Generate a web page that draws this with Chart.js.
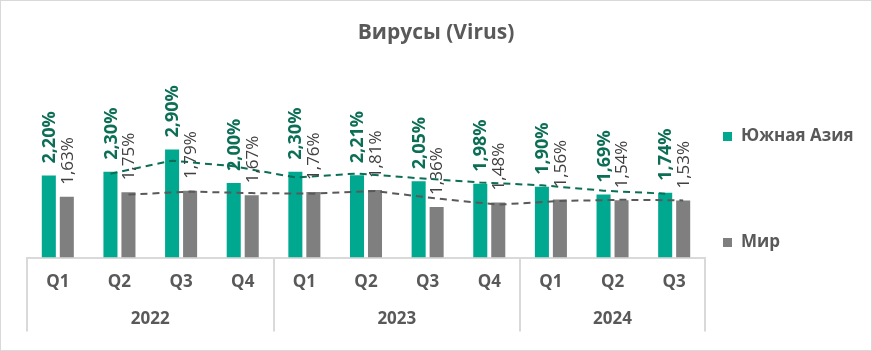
<!DOCTYPE html>
<html>
<head>
<meta charset="utf-8">
<script src="https://cdn.jsdelivr.net/npm/chart.js@4"></script>
<style>
  html, body { margin: 0; padding: 0; background: #fff; }
  canvas { display: block; }
</style>
</head>
<body>
<canvas id="myChart" width="872" height="351"></canvas>
<script>
// data
var quarters = ['Q1', 'Q2', 'Q3', 'Q4', 'Q1', 'Q2', 'Q3', 'Q4', 'Q1', 'Q2', 'Q3'];
var years = ['2022', '2023', '2024'];
var yearSize = [4, 4, 3];
var southAsia = [2.20, 2.30, 2.90, 2.00, 2.30, 2.21, 2.05, 1.98, 1.90, 1.69, 1.74];
var world = [1.63, 1.75, 1.79, 1.67, 1.76, 1.81, 1.36, 1.48, 1.56, 1.54, 1.53];
var seriesNames = ['Южная Азия', 'Мир'];

var green = '#00A88F';
var greenDark = '#0B6E55';
var grey = '#7F7F7F';
var greyDark = '#595959';
var font = "'Open Sans', 'Noto Sans', sans-serif";

// 2 period moving average trendline (as in the excel chart)
function movingAvg(arr) {
    var out = [null];
    for (var i = 1; i < arr.length; i++) {
        out.push((arr[i - 1] + arr[i]) / 2);
    }
    return out;
}
var trendColors = [greenDark, greyDark];

function fmt(v) {
    return v.toFixed(2).replace('.', ',') + '%';
}

function fixWidth(w) {
    return function(scale) { scale.width = w; };
}

var extras = {
    id: 'extras',
    beforeDraw: function(chart) {
        var ctx = chart.ctx;
        ctx.save();
        ctx.strokeStyle = '#d9d9d9';
        ctx.lineWidth = 1;
        ctx.strokeRect(0.5, 0.5, chart.width - 1, chart.height - 1);
        ctx.restore();
    },
    afterDatasetsDraw: function(chart) {
        var ctx = chart.ctx;
        var ys = chart.scales.y;
        // trendlines, through the bar centres
        [0, 1].forEach(function(di) {
            var meta = chart.getDatasetMeta(di);
            var tr = movingAvg(chart.data.datasets[di].data);
            ctx.save();
            ctx.strokeStyle = trendColors[di];
            ctx.lineWidth = 2;
            ctx.setLineDash([7, 5]);
            ctx.beginPath();
            for (var i = 1; i < tr.length; i++) {
                var x = meta.data[i].x, y = ys.getPixelForValue(tr[i]);
                if (i == 1) ctx.moveTo(x, y); else ctx.lineTo(x, y);
            }
            ctx.stroke();
            ctx.restore();
        });
        // data labels
        [0, 1].forEach(function(di) {
            var meta = chart.getDatasetMeta(di);
            var vals = chart.data.datasets[di].data;
            meta.data.forEach(function(bar, i) {
                ctx.save();
                ctx.translate(bar.x + 1, bar.y - 12);
                ctx.rotate(-Math.PI / 2);
                ctx.textAlign = 'left';
                ctx.textBaseline = 'middle';
                if (di == 0) {
                    ctx.font = "bold 18px " + font;
                    ctx.fillStyle = greenDark;
                } else {
                    ctx.font = "17px " + font;
                    ctx.fillStyle = '#404040';
                }
                ctx.fillText(fmt(vals[i]), 0, 0);
                ctx.restore();
            });
        });
    },
    afterDraw: function(chart) {
        var ctx = chart.ctx;
        var xs = chart.scales.x;
        var area = chart.chartArea;
        var w = xs.getPixelForValue(1) - xs.getPixelForValue(0);
        ctx.save();
        ctx.strokeStyle = '#d9d9d9';
        ctx.lineWidth = 2;
        var start = 0;
        var edges = [0];
        years.forEach(function(y, k) {
            var left = xs.getPixelForValue(start) - w / 2;
            var right = xs.getPixelForValue(start + yearSize[k] - 1) + w / 2;
            ctx.fillStyle = greyDark;
            ctx.font = "bold 17px " + font;
            ctx.textAlign = 'center';
            ctx.textBaseline = 'middle';
            ctx.fillText(y, (left + right) / 2, area.bottom + 62);
            start += yearSize[k];
            edges.push(start);
        });
        edges.forEach(function(e) {
            var x = Math.round(xs.getPixelForValue(e) - w / 2);
            ctx.beginPath();
            ctx.moveTo(x, area.bottom);
            ctx.lineTo(x, area.bottom + 74);
            ctx.stroke();
        });
        // legend
        var lx = area.right + 18;
        var ly = [136, 242];
        [green, grey].forEach(function(c, k) {
            ctx.fillStyle = c;
            ctx.fillRect(lx, ly[k] - 4, 9, 9);
            ctx.fillStyle = greyDark;
            ctx.font = "bold 17px " + font;
            ctx.textAlign = 'left';
            ctx.textBaseline = 'middle';
            ctx.fillText(seriesNames[k], lx + 18, ly[k]);
        });
        ctx.restore();
    }
};

var ctx = document.getElementById('myChart').getContext('2d');
var myChart = new Chart(ctx, {
    type: 'bar',
    data: {
        labels: quarters,
        datasets: [{
            label: seriesNames[0],
            data: southAsia,
            backgroundColor: green,
            categoryPercentage: 0.584,
            barPercentage: 0.78
        }, {
            label: seriesNames[1],
            data: world,
            backgroundColor: grey,
            categoryPercentage: 0.584,
            barPercentage: 0.78
        }]
    },
    options: {
        responsive: false,
        animation: false,
        devicePixelRatio: 1,
        layout: {
            padding: {left: 0, right: 0, top: 0, bottom: 45}
        },
        plugins: {
            legend: {display: false},
            tooltip: {enabled: false},
            title: {
                display: true,
                text: 'Вирусы (Virus)',
                color: greyDark,
                font: {family: font, size: 21, weight: 'bold'},
                padding: {top: 20, bottom: 26}
            }
        },
        scales: {
            x: {
                offset: true,
                grid: {display: false, drawTicks: false},
                border: {display: true, color: '#d9d9d9', width: 2},
                ticks: {
                    color: greyDark,
                    font: {family: font, size: 17, weight: 'bold'},
                    padding: 14,
                    maxRotation: 0
                }
            },
            y: {
                position: 'left',
                min: 0,
                max: 5,
                grid: {display: false},
                border: {display: false},
                ticks: {display: false},
                afterFit: fixWidth(27)
            },
            yr: {
                position: 'right',
                min: 0,
                max: 5,
                grid: {display: false},
                border: {display: false},
                ticks: {display: false},
                afterFit: fixWidth(167)
            }
        }
    },
    plugins: [extras]
});
</script>
</body>
</html>
